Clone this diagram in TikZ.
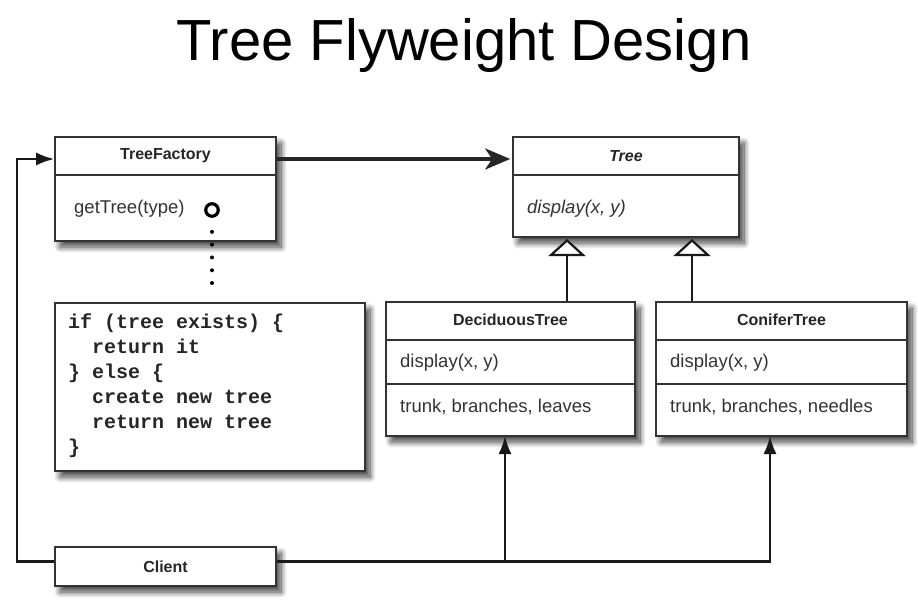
\documentclass[tikz,border=0pt]{standalone}
\usepackage{fontspec}
\setmainfont{Liberation Sans}
\setmonofont{Liberation Mono}
\usetikzlibrary{arrows.meta,shadows.blur,calc}
\begin{document}
\begin{tikzpicture}[x=1pt,y=-1pt,
  umlbox/.style={draw=black!80, line width=1.6pt, fill=white, inner sep=0pt,
    blur shadow={shadow xshift=5pt, shadow yshift=-6pt, shadow blur radius=6pt, shadow blur steps=12, shadow opacity=75}},
  divider/.style={draw=black!80, line width=1.6pt},
  hdr/.style={font=\fontsize{16}{19}\selectfont\bfseries, text=black!85},
  body/.style={font=\fontsize{18.5}{22}\selectfont, text=black!80, anchor=base west, inner sep=0pt},
  conn/.style={draw=black!90, line width=2.2pt},
  arr/.style={conn, -{Latex[length=18pt,width=13pt]}},
  inh/.style={conn, -{Triangle[open, fill=white, length=17pt, width=37pt, line width=2.2pt]}},
]
\useasboundingbox (0,0) rectangle (918,602);

% title
\node[font=\fontsize{58}{70}\selectfont, anchor=base, inner sep=0pt] (title) at (464,60) {Tree Flyweight Design};

% TreeFactory
\node[umlbox, minimum width=221pt, minimum height=104pt] (tf) at (165.5,189) {};
\draw[divider] (tf.west |- 0,175) -- (tf.east |- 0,175);
\node[hdr] (tfh) at (165.5,156) {TreeFactory};
\node[body] (tfop) at (74,213) {getTree(type)};
\node[circle, draw=black, line width=3.2pt, minimum size=12.5pt, inner sep=0pt] (circ) at (212,210) {};

% Tree
\node[umlbox, minimum width=226pt, minimum height=100pt] (tree) at (626,187) {};
\draw[divider] (tree.west |- 0,175) -- (tree.east |- 0,175);
\node[hdr, font=\fontsize{16}{19}\selectfont\bfseries\itshape] (treeh) at (626,156) {Tree};
\node[body, font=\fontsize{18.5}{22}\selectfont\itshape] (treeop) at (527,213) {display(x, y)};

% DeciduousTree
\node[umlbox, minimum width=249pt, minimum height=134pt] (dt) at (510.5,369) {};
\draw[divider] (dt.west |- 0,340) -- (dt.east |- 0,340);
\draw[divider] (dt.west |- 0,384) -- (dt.east |- 0,384);
\node[hdr] (dth) at (510.5,320) {DeciduousTree};
\node[body] (dtop) at (400,367) {display(x, y)};
\node[body] (dtat) at (400,412) {trunk, branches, leaves};

% ConiferTree
\node[umlbox, minimum width=251pt, minimum height=134pt] (ct) at (781.5,369) {};
\draw[divider] (ct.west |- 0,340) -- (ct.east |- 0,340);
\draw[divider] (ct.west |- 0,384) -- (ct.east |- 0,384);
\node[hdr] (cth) at (781.5,320) {ConiferTree};
\node[body] (ctop) at (670,367) {display(x, y)};
\node[body] (ctat) at (670,412) {trunk, branches, needles};

% code note
\node[umlbox, minimum width=310pt, minimum height=168pt] (code) at (210,387) {};
\node[anchor=north west, inner sep=0pt, align=left, text=black!85,
  font=\fontsize{20}{25}\selectfont\ttfamily\bfseries] (codetxt) at (68,314)
  {if (tree exists) \{\\
   \phantom{xx}return it\\
   \} else \{\\
   \phantom{xx}create new tree\\
   \phantom{xx}return new tree\\
   \}};

% Client
\node[umlbox, minimum width=221pt, minimum height=39pt] (client) at (165.5,566.5) {};
\node[hdr] (clh) at (165.5,566.5) {Client};

% connectors
\coordinate (lk) at (17,159);
\coordinate (dA) at (505,436);
\coordinate (cA) at (770,436);
\coordinate (i1) at (567,239);
\coordinate (i2) at (692,239);

\draw[line width=4pt, line cap=round, dash pattern=on 0pt off 12.8pt]
  ([yshift=-14pt]circ.south) -- ([yshift=9pt]code.north -| circ.south);

\draw[line width=3.8pt, draw=black!85, -{Stealth[length=25pt,width=21pt,inset=7pt]}, shorten >=2pt]
  (tf.east |- lk) -- (tree.west |- lk);

\draw[arr] ([yshift=5pt]client.west) -| (lk) -- (lk -| tf.west);
\draw[arr] ([yshift=5pt]client.east) -| (dA);
\draw[arr] ([yshift=5pt]client.east) -| (cA);

\draw[inh] (i1 |- dt.north) -- (i1);
\draw[inh] (i2 |- ct.north) -- (i2);
\end{tikzpicture}
\end{document}
